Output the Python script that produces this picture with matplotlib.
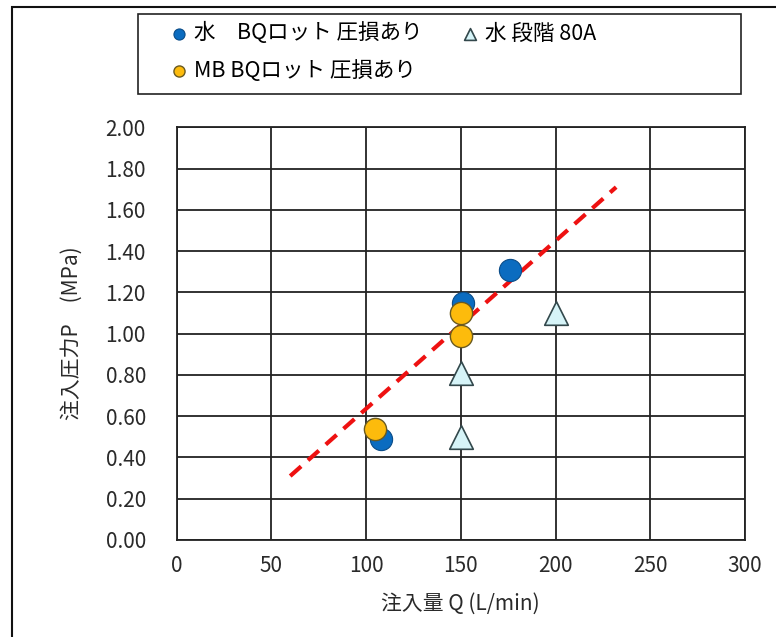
"""Injection pressure vs. flow rate scatter with a trend line."""

import matplotlib.pyplot as plt
from matplotlib.patches import Rectangle

plt.rcParams["font.family"] = ["Noto Sans CJK JP", "DejaVu Sans"]

# 水 BQロット 圧損あり
water_q = [108, 151, 176]
water_p = [0.49, 1.15, 1.31]

# MB BQロット 圧損あり
mb_q = [105, 150, 150]
mb_p = [0.54, 1.10, 0.99]

# 水 段階 80A
step_q = [150, 150, 200]
step_p = [0.50, 0.81, 1.10]

# trend line end points
trend_q = [60, 232]
trend_p = [0.31, 1.71]

x_ticks = [0, 50, 100, 150, 200, 250, 300]
y_ticks = [0.0, 0.2, 0.4, 0.6, 0.8, 1.0, 1.2, 1.4, 1.6, 1.8, 2.0]

W, H = 776, 637
fig = plt.figure(figsize=(W / 100, H / 100), dpi=100)
ax = fig.add_axes([176.5 / W, 1 - 540 / H, (745 - 176.5) / W, (540 - 127.3) / H])

ax.set_xlim(0, 300)
ax.set_ylim(0, 2.0)
ax.set_xticks(x_ticks)
ax.set_yticks(y_ticks)
ax.set_yticklabels([f"{v:.2f}" for v in y_ticks])
ax.grid(True, color="#222222", linewidth=1.3)
ax.set_axisbelow(True)
for s in ax.spines.values():
    s.set_color("#222222")
    s.set_linewidth(1.3)
ax.tick_params(axis="both", length=0, labelsize=15, colors="#2a2a2a")
ax.tick_params(axis="y", pad=22)
ax.tick_params(axis="x", pad=11)

ax.plot(trend_q, trend_p, color="#ee1111", linestyle=(0, (3.5, 2.2)), linewidth=3, zorder=2)

h_water = ax.scatter(water_q, water_p, s=16 ** 2, color="#0b6cc0", edgecolors="#0a4c88",
                     linewidths=0.8, zorder=3, label="水\u3000BQロット 圧損あり")
h_mb = ax.scatter(mb_q, mb_p, s=16 ** 2, color="#fdbb0c", edgecolors="#6a5a20",
                  linewidths=1.0, zorder=4, label="MB BQロット 圧損あり")
h_step = ax.scatter(step_q, step_p, s=17 ** 2, marker="^", color="#d6f4f8",
                    edgecolors="#33484c", linewidths=1.2, zorder=3, label="水 段階 80A")

ax.set_xlabel("注入量 Q (L/min)", fontsize=15, color="#2a2a2a", labelpad=11)
ax.set_ylabel("注入圧力P\u3000(MPa)", fontsize=15, color="#2a2a2a", labelpad=16)

fig.legend(handles=[h_water, h_mb, h_step], ncol=2, frameon=False,
           loc="upper left", bbox_to_anchor=(150 / W, 1 - 3 / H),
           fontsize=15.5, markerscale=0.5, handletextpad=0.25,
           columnspacing=1.75, labelspacing=0.72, handlelength=0.9)

# legend frame and outer chart border
fig.add_artist(Rectangle((138 / W, 1 - 94 / H), (741 - 138) / W, 80 / H,
                         transform=fig.transFigure, fill=False,
                         edgecolor="#222222", linewidth=1.2))
fig.add_artist(Rectangle((12 / W, -0.1), 1.2, 1 - 7 / H + 0.1,
                         transform=fig.transFigure, fill=False,
                         edgecolor="#111111", linewidth=1.5))

fig.savefig("out.png", dpi=100)
